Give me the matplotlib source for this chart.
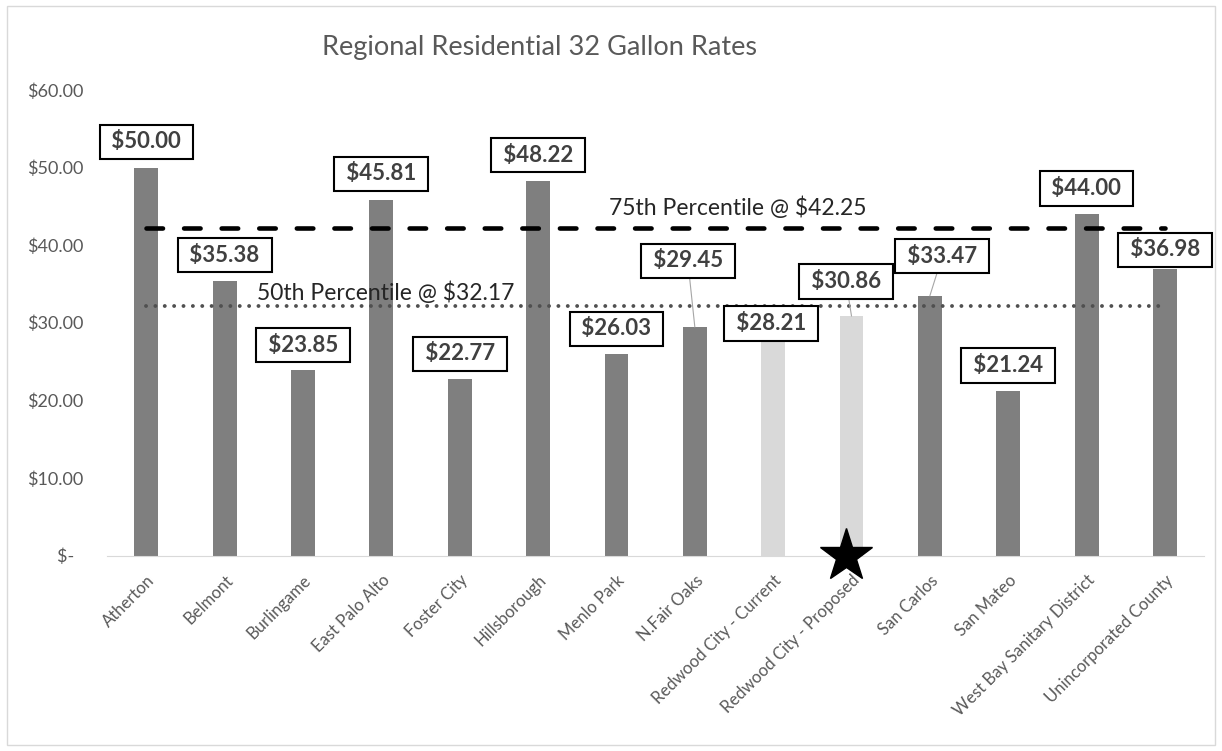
import matplotlib
matplotlib.use("Agg")
import matplotlib.pyplot as plt
from matplotlib.patches import Rectangle

plt.rcParams['font.family'] = ['Lato', 'DejaVu Sans']

cities = ['Atherton', 'Belmont', 'Burlingame', 'East Palo Alto', 'Foster City',
          'Hillsborough', 'Menlo Park', 'N.Fair Oaks', 'Redwood City - Current',
          'Redwood City - Proposed', 'San Carlos', 'San Mateo',
          'West Bay Sanitary District', 'Unincorporated County']
rates = [50.00, 35.38, 23.85, 45.81, 22.77, 48.22, 26.03, 29.45, 28.21,
         30.86, 33.47, 21.24, 44.00, 36.98]
highlight = ['Redwood City - Current', 'Redwood City - Proposed']
p75 = 42.25
p50 = 32.17
star_city = 'Redwood City - Proposed'

# label box placement (x shift in category units, y in $)
label_dx = [0, 0, 0, 0, 0, 0, 0, -0.09, -0.03, -0.07, 0.16, 0, 0, 0]
label_y = [53.3, 38.7, 27.1, 49.2, 26.0, 51.6, 29.2, 38.0, 29.9, 35.3, 38.6, 24.5, 47.3, 39.4]
leader = ['N.Fair Oaks', 'Redwood City - Proposed', 'San Carlos']

fig = plt.figure(figsize=(12.22, 7.51), dpi=100)
ax = fig.add_axes([0.0878, 0.2603, 0.8975, 0.6199])

x = list(range(len(cities)))
colors = ['#d9d9d9' if c in highlight else '#7f7f7f' for c in cities]
ax.bar(x, rates, width=0.306, color=colors, zorder=2)

ax.plot([x[0], x[-1]], [p75, p75], color='black', lw=3.3, dashes=(3.6, 4.6),
        dash_capstyle='round', zorder=3)
ax.plot([x[0], x[-1]], [p50, p50], color='#505050', lw=2.8, dashes=(0.01, 2.4),
        dash_capstyle='round', zorder=3)
ax.text(7.55, p75 + 2.6, f'75th Percentile @ ${p75:.2f}', ha='center', va='center',
        fontsize=16.5, color='#262626')
ax.text(3.05, p50 + 1.7, f'50th Percentile @ ${p50:.2f}', ha='center', va='center',
        fontsize=16.5, color='#262626')

for i, (c, v) in enumerate(zip(cities, rates)):
    arrow = None
    if c in leader:
        arrow = dict(arrowstyle='-', color='#a6a6a6', lw=0.8, shrinkA=0, shrinkB=0)
    ax.annotate(f' ${v:.2f} ', xy=(i, v), xytext=(i + label_dx[i], label_y[i]),
                ha='center', va='center', fontsize=16, fontweight='bold', color='#404040',
                bbox=dict(boxstyle='square,pad=0.3', fc='white', ec='black', lw=1.5),
                arrowprops=arrow, zorder=4)

ax.plot([cities.index(star_city) - 0.07], [0], marker='*', markersize=40, color='black',
        clip_on=False, zorder=5)

ax.set_xlim(-0.5, len(cities) - 0.5)
ax.set_ylim(0, 60)
ax.set_yticks([0, 10, 20, 30, 40, 50, 60])
ax.set_yticklabels(['$-  '] + [f'${v:.2f}' for v in [10, 20, 30, 40, 50, 60]],
                   fontsize=13, color='#595959')
ax.set_xticks(x)
ax.set_xticklabels(cities, rotation=45, ha='right', rotation_mode='anchor',
                   fontsize=12, color='#595959')
ax.tick_params(axis='both', length=0)
ax.tick_params(axis='x', pad=12)
ax.tick_params(axis='y', pad=17)
for s in ['top', 'right', 'left']:
    ax.spines[s].set_visible(False)
ax.spines['bottom'].set_color('#d9d9d9')

fig.text(540 / 1222, 1 - 47 / 751, 'Regional Residential 32 Gallon Rates',
         ha='center', va='center', fontsize=19.5, color='#595959')
fig.patches.append(Rectangle((7 / 1222, 6 / 751), 1208 / 1222, 739 / 751,
                             transform=fig.transFigure, fill=False,
                             ec='#d9d9d9', lw=1))

fig.savefig('out.png', dpi=100)
